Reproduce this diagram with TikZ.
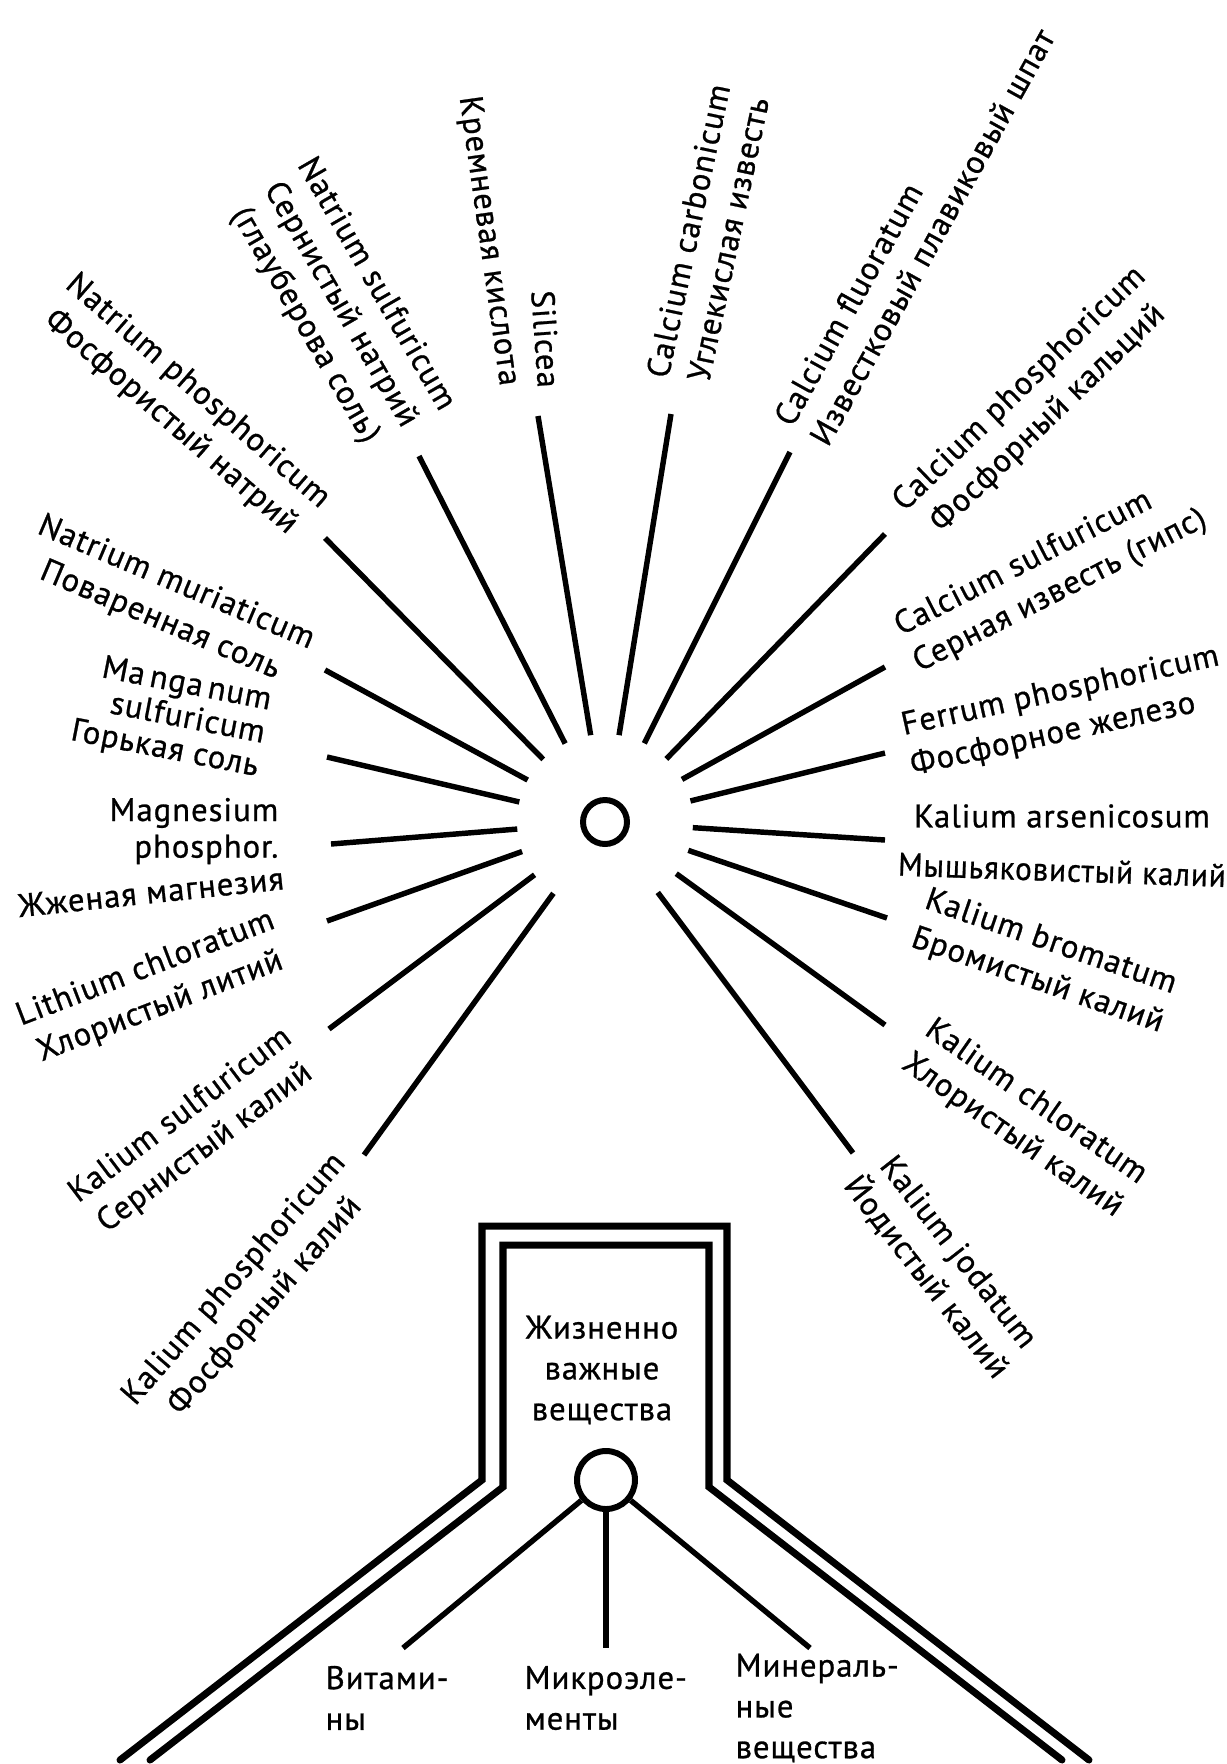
\documentclass[tikz,border=0pt]{standalone}
\usepackage{fontspec}
\setmainfont{PT Sans}[LetterSpace=3, FakeBold=0.8]
\usetikzlibrary{calc}

\begin{document}
\begin{tikzpicture}[
x=0.1mm, y=-0.1mm,
spoke/.style={line width=1.55pt},
wall/.style={line width=2pt, line join=miter, line cap=round},
salt/.style={font=\fontsize{9.3}{11.6}\selectfont, inner sep=0pt, align=center},
ring/.style={circle, draw, line width=1.7pt, inner sep=0pt}
]
\useasboundingbox (0,0) rectangle (1227,1764);
\clip (0,0) rectangle (1227,1764);

% upper star
\node[ring, minimum size=4.4mm] (hub) at (605,822) {};
\node[circle, inner sep=0pt, outer sep=0pt, minimum size=17.6mm] (zone) at (hub) {};

\coordinate (natPhosEnd) at (325,538);
\coordinate (natSulfEnd) at (419,456);
\coordinate (siliceaEnd) at (538,416);
\coordinate (calCarbEnd) at (671,414);
\coordinate (calFluorEnd) at (790,452);
\coordinate (calPhosEnd) at (885,534);
\coordinate (calSulfEnd) at (885,667);
\coordinate (ferrumEnd) at (885,753);
\coordinate (kalArsEnd) at (885,840);
\coordinate (kalBromEnd) at (887,918);
\coordinate (kalChlorEnd) at (885,1025);
\coordinate (kalJodEnd) at (853,1153);
\coordinate (kalPhosEnd) at (364,1155);
\coordinate (kalSulfEnd) at (329,1029);
\coordinate (lithEnd) at (327,921);
\coordinate (magnesEnd) at (331,844);
\coordinate (manganEnd) at (327,757);
\coordinate (natMurEnd) at (325,670);

\draw[spoke] (zone) -- (natPhosEnd);
\draw[spoke] (zone) -- (natSulfEnd);
\draw[spoke] (zone) -- (siliceaEnd);
\draw[spoke] (zone) -- (calCarbEnd);
\draw[spoke] (zone) -- (calFluorEnd);
\draw[spoke] (zone) -- (calPhosEnd);
\draw[spoke] (zone) -- (calSulfEnd);
\draw[spoke] (zone) -- (ferrumEnd);
\draw[spoke] (zone) -- (kalArsEnd);
\draw[spoke] (zone) -- (kalBromEnd);
\draw[spoke] (zone) -- (kalChlorEnd);
\draw[spoke] (zone) -- (kalJodEnd);
\draw[spoke] (zone) -- (kalPhosEnd);
\draw[spoke] (zone) -- (kalSulfEnd);
\draw[spoke] (zone) -- (lithEnd);
\draw[spoke] (zone) -- (magnesEnd);
\draw[spoke] (zone) -- (manganEnd);
\draw[spoke] (zone) -- (natMurEnd);

% labels
\node[salt, rotate=-41] (natPhos) at (184,407) {Natrium phosphoricum\\Фосфористый натрий};
\node[salt, rotate=-60] (natSulf) at (340,305) {Natrium sulfuricum\\Сернистый натрий\\(глауберова соль)};
\node[salt, rotate=-82] (kremn) at (488,241) {Кремневая кислота};
\node[salt, rotate=-86] (silicea) at (546,339) {Silicea};
\node[salt, rotate=78] (calCarb) at (708,235) {Calcium carbonicum\\Углекислая известь};
\node[salt, rotate=61, anchor=west, align=left] (calFluor) at (800,433) {Calcium fluoratum\\Известковый плавиковый шпат};
\node[salt, rotate=44] (calPhos) at (1034,404) {Calcium phosphoricum\\Фосфорный кальций};
\node[salt, rotate=27, anchor=west, align=left] (calSulf) at (906,647) {Calcium sulfuricum\\Серная известь (гипс)};
\node[salt, rotate=12.5, anchor=west, align=left] (ferrum) at (906,747) {Ferrum phosphoricum\\Фосфорное железо};
\node[salt] (kalArs) at (1062,816) {Kalium arsenicosum};
\node[salt, rotate=-2] (myshyak) at (1062,870) {\scalebox{0.95}[1]{Мышьяковистый калий}};
\node[salt, rotate=-19] (kalBrom) at (1044,962) {Kalium bromatum\\Бромистый калий};
\node[salt, rotate=-35] (kalChlor) at (1024,1119) {Kalium chloratum\\Хлористый калий};
\node[salt, rotate=-52] (kalJod) at (942,1265) {Kalium jodatum\\Йодистый калий};

\node[salt, rotate=-23] (natMur) at (168,602) {Natrium muriaticum\\Поваренная соль};
\node[salt, rotate=-11, anchor=east, align=right, font=\fontsize{9.3}{9.6}\selectfont] (mangan) at (265,735) {Ma\,nga\,num\\sulfuricum\\Горькая соль};
\node[salt, anchor=east, align=right, font=\fontsize{9.3}{10.4}\selectfont] (magnes) at (279,831) {Magnesium\\phosphor.};
\node[salt, rotate=6] (zhzhen) at (151,892) {Жженая магнезия};
\node[salt, rotate=21] (lith) at (153,988) {Lithium chloratum\\Хлористый литий};
\node[salt, rotate=37] (kalSulf) at (193,1132) {Kalium sulfuricum\\Сернистый калий};
\node[salt, rotate=49] (kalPhos) at (250,1293) {Kalium phosphoricum\\Фосфорный калий};

% lower house
\draw[wall] (120,1760) -- (482,1480) -- (482,1226) -- (727,1226) -- (727,1480) -- (1089,1760);
\draw[wall] (150,1760) -- (503,1487) -- (503,1245) -- (709,1245) -- (709,1487) -- (1062,1760);

\node[salt] (vital) at (602,1370) {Жизненно\\важные\\вещества};
\node[ring, minimum size=5.8mm] (root) at (606,1480) {};

\coordinate (vitEnd) at (403,1648);
\coordinate (microEnd) at (606,1648);
\coordinate (mineralEnd) at (810,1648);
\draw[spoke] (root) -- (vitEnd);
\draw[spoke] (root) -- (microEnd);
\draw[spoke] (root) -- (mineralEnd);

\node[salt, anchor=west, align=left] (vitamins) at (325,1698) {Витами-\\ны};
\node[salt, anchor=west, align=left] (micro) at (524,1698) {Микроэле-\\менты};
\node[salt, anchor=west, align=left] (mineral) at (735,1708) {Минераль-\\ные\\вещества};
\end{tikzpicture}
\end{document}
